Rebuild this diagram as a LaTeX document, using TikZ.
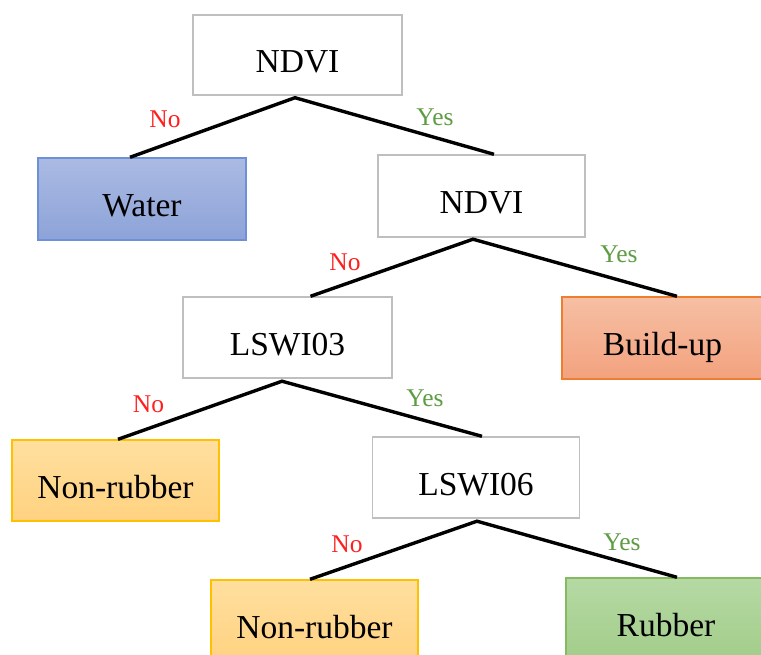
\documentclass[tikz,border=0pt]{standalone}
\usepackage{fontspec}
\setmainfont{Liberation Serif}
\definecolor{greyedge}{HTML}{BFBFBF}
\definecolor{waterTop}{HTML}{AABAE3}
\definecolor{waterBot}{HTML}{8DA3D8}
\definecolor{waterEdge}{HTML}{6E90D6}
\definecolor{buildTop}{HTML}{F6BFA4}
\definecolor{buildBot}{HTML}{F3A27E}
\definecolor{buildEdge}{HTML}{ED7D31}
\definecolor{nonTop}{HTML}{FFDF9F}
\definecolor{nonBot}{HTML}{FFD280}
\definecolor{nonEdge}{HTML}{FFC000}
\definecolor{rubTop}{HTML}{B6D9A4}
\definecolor{rubBot}{HTML}{A2CD8A}
\definecolor{rubEdge}{HTML}{85BA63}
\definecolor{noRed}{HTML}{FF1F1F}
\definecolor{yesGreen}{HTML}{5E9C44}
\tikzset{
  box/.style={rectangle, draw, line width=1.4pt, inner sep=0pt,
    font=\fontsize{33.5}{36}\selectfont, text height=41pt, text depth=6pt},
  splitbox/.style={box, draw=greyedge, fill=white},
  waterbox/.style={box, draw=waterEdge, top color=waterTop, bottom color=waterBot},
  buildbox/.style={box, draw=buildEdge, top color=buildTop, bottom color=buildBot},
  nonbox/.style={box, draw=nonEdge, top color=nonTop, bottom color=nonBot},
  rubbox/.style={box, draw=rubEdge, top color=rubTop, bottom color=rubBot},
  branch/.style={line width=3.4pt, black, line join=miter},
  nolabel/.style={inner sep=0pt, text=noRed, font=\fontsize{25.5}{28}\selectfont},
  yeslabel/.style={inner sep=0pt, text=yesGreen, font=\fontsize{25.5}{28}\selectfont},
}
\begin{document}
\begin{tikzpicture}[x=1pt, y=-1pt]
\useasboundingbox (0,0) rectangle (761,654);

% decision and class boxes
\node[splitbox, minimum width=209pt, minimum height=80pt] (nd1) at (297.5,55) {NDVI};
\node[waterbox, minimum width=208pt, minimum height=82pt] (water) at (142,199) {Water};
\node[splitbox, minimum width=207pt, minimum height=82pt] (nd2) at (481.5,196) {NDVI};
\node[buildbox, minimum width=201pt, minimum height=82pt] (build) at (662.5,338) {Build-up};
\node[splitbox, minimum width=209pt, minimum height=81pt] (lsw3) at (287.5,337.5) {LSWI03};
\node[nonbox, minimum width=207pt, minimum height=81pt] (nr1) at (115.5,480.5) {Non-rubber};
\node[splitbox, minimum width=207pt, minimum height=81pt] (lsw6) at (476,477.5) {LSWI06};
\node[nonbox, minimum width=207pt, minimum height=82pt] (nr2) at (314.5,621) {Non-rubber};
\node[rubbox, minimum width=200pt, minimum height=82pt] (rub) at (666,619) {Rubber};

% branches
\draw[branch] ([xshift=-12pt]water.north) -- ([xshift=-2.5pt,yshift=-2pt]nd1.south) -- ([xshift=12.5pt]nd2.north);
\draw[branch] ([xshift=23pt]lsw3.north) -- ([xshift=-8.5pt,yshift=-1.5pt]nd2.south) -- ([xshift=14.5pt]build.north);
\draw[branch] ([xshift=2.5pt]nr1.north) -- ([xshift=-5.5pt,yshift=-2.5pt]lsw3.south) -- ([xshift=6pt]lsw6.north);
\draw[branch] ([xshift=-4.5pt]nr2.north) -- ([xshift=1pt,yshift=-2.5pt]lsw6.south) -- ([xshift=11pt]rub.north);

% branch labels
\node[nolabel] (no1) at (165,119) {No};
\node[yeslabel] (yes1) at (435,117) {Yes};
\node[nolabel] (no2) at (345,262) {No};
\node[yeslabel] (yes2) at (619,254) {Yes};
\node[nolabel] (no3) at (148.5,404.5) {No};
\node[yeslabel] (yes3) at (425,398) {Yes};
\node[nolabel] (no4) at (347,544) {No};
\node[yeslabel] (yes4) at (622,542) {Yes};
\end{tikzpicture}
\end{document}
